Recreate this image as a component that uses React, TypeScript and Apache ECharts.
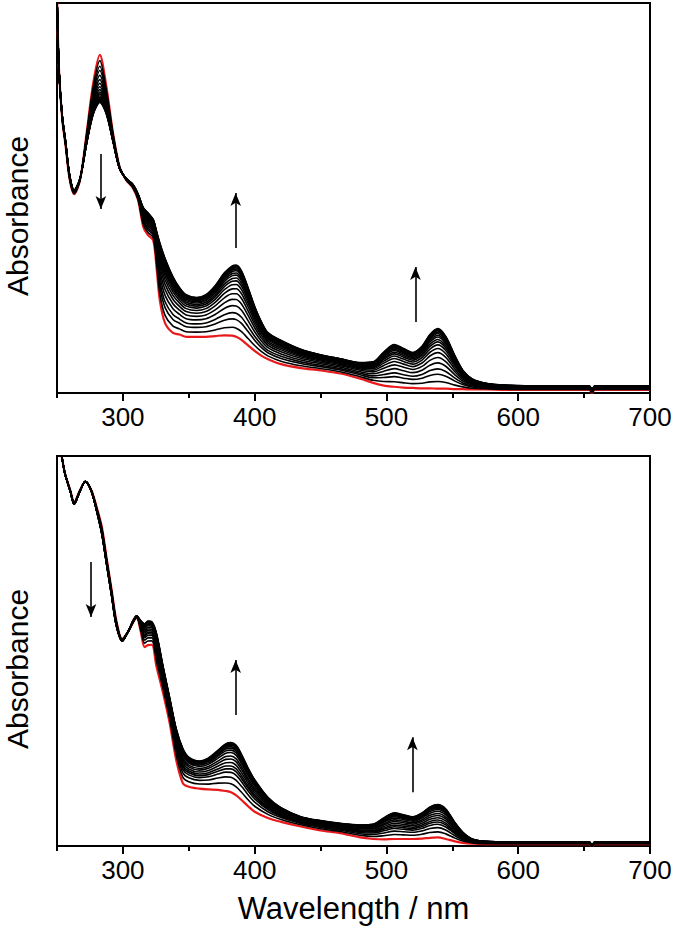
import React, { useEffect, useRef } from "react";
import * as echarts from "echarts";

// ---------- Top panel ----------
const wavelengthsTop = [250, 251.5, 254, 256.5, 259.5, 263, 267.5, 272.5, 277.5, 282.5, 287.5, 292.5, 297.5, 302.5, 307.5, 311.5, 315.5, 319, 323, 325.5, 328, 332, 338, 343, 348, 356, 363, 370, 377, 383, 386, 390, 395, 400, 405, 410, 420, 435, 450, 465, 480, 490, 498, 506, 513, 520, 527, 533, 539, 545, 552, 558, 565, 575, 590, 620, 654, 656, 658, 700];
const redTop = [1.02, 0.83, 0.7, 0.635, 0.55, 0.51, 0.546, 0.667, 0.795, 0.867, 0.785, 0.667, 0.58, 0.546, 0.526, 0.495, 0.426, 0.405, 0.392, 0.323, 0.238, 0.179, 0.154, 0.15, 0.144, 0.144, 0.144, 0.146, 0.148, 0.147, 0.144, 0.136, 0.122, 0.108, 0.096, 0.087, 0.074, 0.064, 0.058, 0.05, 0.037, 0.026, 0.019, 0.016, 0.014, 0.013, 0.012, 0.012, 0.011, 0.011, 0.01, 0.01, 0.009, 0.009, 0.008, 0.008, 0.008, 0.0, 0.008, 0.008];
const finalTop = [1.02, 0.83, 0.71, 0.645, 0.56, 0.52, 0.55, 0.64, 0.715, 0.745, 0.715, 0.645, 0.575, 0.55, 0.535, 0.51, 0.475, 0.462, 0.445, 0.415, 0.385, 0.345, 0.298, 0.27, 0.252, 0.245, 0.252, 0.275, 0.308, 0.326, 0.328, 0.313, 0.27, 0.222, 0.183, 0.155, 0.135, 0.112, 0.098, 0.088, 0.078, 0.08, 0.105, 0.124, 0.114, 0.104, 0.12, 0.15, 0.165, 0.145, 0.095, 0.058, 0.036, 0.025, 0.02, 0.018, 0.018, 0.008, 0.018, 0.018];
// fraction of the way from the red (initial) to the last spectrum, read at 385 nm for each black trace
const stepsTop = [0.12, 0.24, 0.33, 0.43, 0.52, 0.6, 0.67, 0.73, 0.78, 0.82, 0.86, 0.89, 0.92, 0.94, 0.96, 0.975, 0.99, 1.0];
const arrowsTop = [
  [283.3, 0.613, 283.3, 0.472],
  [385.6, 0.372, 385.6, 0.513],
  [522, 0.182, 522, 0.323],
];

// ---------- Bottom panel ----------
const wavelengthsBottom = [250, 253.5, 256, 260, 263, 267.5, 271.5, 276, 280, 284, 287.5, 291.5, 295, 299.5, 304, 310.5, 313.5, 316.5, 319, 322, 325.5, 330.5, 335.5, 340.5, 345.5, 350, 358, 365, 372, 378, 382, 386, 390, 395, 400, 410, 420, 435, 450, 465, 480, 490, 498, 506, 513, 520, 527, 533, 539, 545, 552, 558, 565, 575, 600, 654, 656, 658, 700];
const redBottom = [1.05, 1.0, 0.956, 0.913, 0.882, 0.913, 0.934, 0.913, 0.87, 0.819, 0.742, 0.656, 0.579, 0.531, 0.55, 0.585, 0.55, 0.51, 0.515, 0.516, 0.46, 0.392, 0.315, 0.22, 0.161, 0.152, 0.147, 0.145, 0.144, 0.141, 0.138, 0.13, 0.118, 0.102, 0.088, 0.072, 0.062, 0.05, 0.04, 0.033, 0.022, 0.018, 0.017, 0.018, 0.018, 0.018, 0.019, 0.021, 0.022, 0.018, 0.012, 0.008, 0.006, 0.005, 0.005, 0.005, -0.003, 0.005, 0.005];
const finalBottom = [1.05, 1.0, 0.955, 0.91, 0.876, 0.91, 0.935, 0.91, 0.86, 0.8, 0.725, 0.64, 0.565, 0.525, 0.55, 0.59, 0.578, 0.57, 0.577, 0.575, 0.545, 0.46, 0.38, 0.3, 0.25, 0.228, 0.218, 0.226, 0.245, 0.262, 0.265, 0.258, 0.235, 0.2, 0.17, 0.125, 0.098, 0.075, 0.065, 0.058, 0.054, 0.056, 0.072, 0.085, 0.08, 0.075, 0.085, 0.1, 0.106, 0.095, 0.06, 0.035, 0.018, 0.012, 0.01, 0.01, 0.002, 0.01, 0.01];
const stepsBottom = [0.17, 0.3, 0.4, 0.47, 0.53, 0.6, 0.67, 0.73, 0.8, 0.85, 0.89, 0.92, 0.95, 0.97, 0.985, 1.0];
const arrowsBottom = [
  [275.8, 0.728, 275.8, 0.587],
  [385.6, 0.336, 385.6, 0.477],
  [519.7, 0.138, 519.7, 0.279],
];

const majorTicks = [300, 400, 500, 600, 700];
const minorTicks = [250, 350, 450, 550, 650];

const FONT = "'Liberation Sans', Arial, Helvetica, sans-serif";

function pairs(wl: number[], vals: number[]) {
  return wl.map((w, i) => [w, vals[i]]);
}
function blend(red: number[], fin: number[], f: number) {
  return red.map((r, i) => r + f * (fin[i] - r));
}

function panelSeries(
  idx: number,
  wl: number[],
  red: number[],
  fin: number[],
  steps: number[],
  arrows: number[][]
) {
  const s: any[] = [];
  s.push({
    type: "line",
    xAxisIndex: idx * 2,
    yAxisIndex: idx,
    data: pairs(wl, red),
    showSymbol: false,
    symbol: "none",
    smooth: 0.3,
    silent: true,
    z: 2,
    lineStyle: { color: "#e8191b", width: 2.2 },
    markLine: {
      silent: true,
      symbol: ["none", "arrow"],
      symbolSize: [8, 13],
      label: { show: false },
      lineStyle: { color: "#000", width: 1.6, type: "solid" },
      itemStyle: { color: "#000" },
      data: arrows.map((a) => [
        { coord: [a[0], a[1]] },
        { coord: [a[2], a[3]] },
      ]),
    },
  });
  steps.forEach((f) => {
    s.push({
      type: "line",
      xAxisIndex: idx * 2,
      yAxisIndex: idx,
      data: pairs(wl, blend(red, fin, f)),
      showSymbol: false,
      symbol: "none",
      smooth: 0.3,
      silent: true,
      z: 3,
      lineStyle: { color: "#000", width: 1.6 },
    });
  });
  return s;
}

function xAxes(gridIndex: number, withName: boolean) {
  return [
    {
      type: "value",
      gridIndex,
      min: 250,
      max: 700,
      interval: 50,
      position: "bottom",
      axisLine: { show: true, onZero: false, lineStyle: { color: "#000", width: 2 } },
      axisTick: {
        show: true,
        customValues: majorTicks,
        length: 8,
        lineStyle: { color: "#000", width: 2 },
      },
      axisLabel: {
        show: true,
        customValues: majorTicks,
        fontSize: 26,
        color: "#000",
        fontFamily: FONT,
        margin: 11,
      },
      splitLine: { show: false },
      name: withName ? "Wavelength / nm" : "",
      nameLocation: "middle",
      nameGap: 47,
      nameTextStyle: { fontSize: 31, color: "#000", fontFamily: FONT },
    },
    {
      type: "value",
      gridIndex,
      min: 250,
      max: 700,
      interval: 50,
      position: "bottom",
      axisLine: { show: false, onZero: false },
      axisTick: {
        show: true,
        customValues: minorTicks,
        length: 5,
        lineStyle: { color: "#000", width: 2 },
      },
      axisLabel: { show: false },
      splitLine: { show: false },
    },
  ];
}

function yAxis(gridIndex: number) {
  return {
    type: "value",
    gridIndex,
    min: 0,
    max: 1,
    axisLine: { show: true, onZero: false, lineStyle: { color: "#000", width: 2 } },
    axisTick: { show: false },
    axisLabel: { show: false },
    splitLine: { show: false },
    name: "Absorbance",
    nameLocation: "middle",
    nameGap: 25,
    nameTextStyle: {
      fontSize: 30,
      lineHeight: 30,
      color: "#000",
      fontFamily: FONT,
      padding: [0, 36, 0, 0],
    },
  };
}

export default function App() {
  const ref = useRef<HTMLDivElement>(null);
  useEffect(() => {
    if (!ref.current) return;
    const chart = echarts.init(ref.current, null, { renderer: "svg" });
    const gridBase = {
      left: 57,
      width: 593,
      height: 390,
      show: true,
      borderColor: "#000",
      borderWidth: 2,
      backgroundColor: "transparent",
      containLabel: false,
      outerBoundsMode: "none",
    };
    const option: any = {
      animation: false,
      backgroundColor: "#fff",
      grid: [
        { ...gridBase, top: 3 },
        { ...gridBase, top: 456 },
      ],
      xAxis: [...xAxes(0, false), ...xAxes(1, true)],
      yAxis: [yAxis(0), yAxis(1)],
      series: [
        ...panelSeries(0, wavelengthsTop, redTop, finalTop, stepsTop, arrowsTop),
        ...panelSeries(1, wavelengthsBottom, redBottom, finalBottom, stepsBottom, arrowsBottom),
      ],
    };
    chart.setOption(option);
    return () => chart.dispose();
  }, []);
  return (
    <div
      ref={ref}
      style={{ position: "absolute", left: 0, top: 0, width: 675, height: 932 }}
    />
  );
}
